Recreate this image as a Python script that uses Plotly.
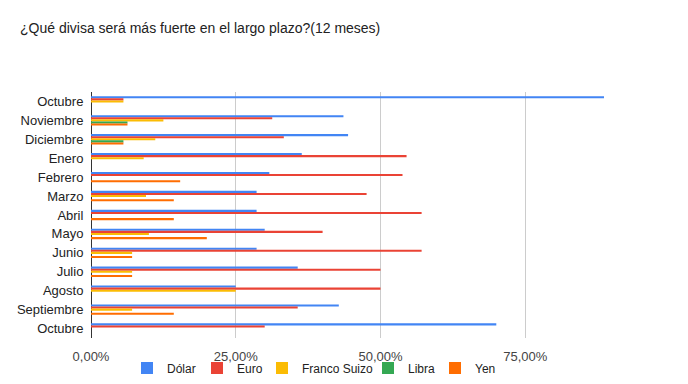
import plotly.graph_objects as go

meses = ["Octubre", "Noviembre", "Diciembre", "Enero", "Febrero", "Marzo", "Abril",
         "Mayo", "Junio", "Julio", "Agosto", "Septiembre", "Octubre"]

dolar = [0.886, 0.436, 0.444, 0.364, 0.308, 0.286, 0.286, 0.30, 0.286, 0.357, 0.25, 0.428, 0.70]
euro = [0.056, 0.313, 0.333, 0.545, 0.538, 0.476, 0.571, 0.40, 0.571, 0.50, 0.50, 0.357, 0.30]
franco = [0.056, 0.125, 0.111, 0.091, 0.0, 0.095, 0.0, 0.10, 0.071, 0.071, 0.25, 0.071, 0.0]
libra = [0.0, 0.063, 0.056, 0.0, 0.0, 0.0, 0.0, 0.0, 0.0, 0.0, 0.0, 0.0, 0.0]
yen = [0.0, 0.063, 0.056, 0.0, 0.154, 0.143, 0.143, 0.20, 0.071, 0.071, 0.0, 0.143, 0.0]

x_ticks = [0, 0.25, 0.5, 0.75, 1.0]
x_tick_labels = ["0,00%", "25,00%", "50,00%", "75,00%", ""]

series = [
    ("Dólar", dolar, "#4285F4"),
    ("Euro", euro, "#EA4335"),
    ("Franco Suizo", franco, "#FBBC04"),
    ("Libra", libra, "#34A853"),
    ("Yen", yen, "#FF6D01"),
]

# page body has an 8px margin; figure is sized to fit inside the 688x384 window
W, H, OFF = 680, 376, 8
ML, MR, MT, MB = 83, 18, 84, 46
PW, PH = W - ML - MR, H - MT - MB
legend_left_px = [127, 197, 262, 368, 435]  # absolute page px for each legend entry box

pos = list(range(len(meses)))

fig = go.Figure()
legend_layout = {}
for i, (name, vals, color) in enumerate(series):
    lname = f"legend{i+2}"
    fig.add_trace(go.Bar(
        y=pos, x=vals, name=name, orientation="h",
        marker=dict(color=color, line=dict(width=0)),
        legend=lname,
    ))
    legend_layout[lname] = dict(
        orientation="h",
        xref="paper", x=(legend_left_px[i] - OFF - ML) / PW, xanchor="left",
        yref="container", y=16 / H, yanchor="middle",
        font=dict(size=12, color="#222222"),
        bgcolor="rgba(0,0,0,0)", itemwidth=30,
    )

fig.update_layout(
    width=W, height=H,
    barmode="group", bargap=0.45, bargroupgap=0,
    paper_bgcolor="white", plot_bgcolor="white",
    font=dict(family="Liberation Sans, Arial, sans-serif", size=12, color="#222222"),
    title=dict(text="¿Qué divisa será más fuerte en el largo plazo?(12 meses)",
               x=0, xref="container", xanchor="left", y=1, yref="container", yanchor="top",
               pad=dict(t=15, l=12), font=dict(size=14, color="#222222")),
    margin=dict(l=ML, r=MR, t=MT, b=MB),
    xaxis=dict(range=[0, 1.0], tickvals=x_ticks, ticktext=x_tick_labels,
               showgrid=True, gridcolor="#CCCCCC", gridwidth=1,
               zeroline=True, zerolinecolor="#333333", zerolinewidth=1,
               tickfont=dict(size=13, color="#444444"),
               ticks="outside", ticklen=6, tickcolor="rgba(0,0,0,0)", showline=False,
               automargin=False),
    yaxis=dict(tickvals=pos, ticktext=meses, autorange="reversed",
               showgrid=False, zeroline=False,
               ticks="outside", ticklen=4, tickcolor="rgba(0,0,0,0)",
               tickfont=dict(size=13, color="#222222"), automargin=False),
    **legend_layout,
)

fig.write_html("out.html")
